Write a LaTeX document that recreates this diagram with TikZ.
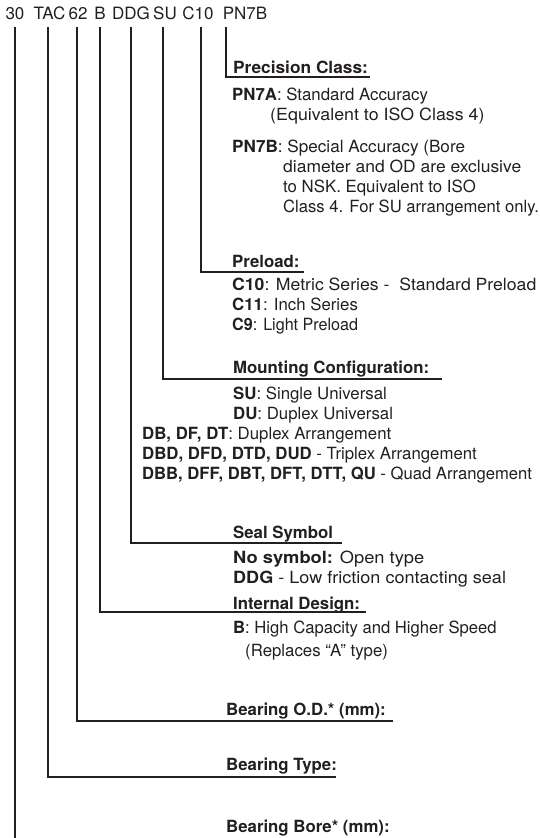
\documentclass[tikz,border=0pt]{standalone}
\usepackage{graphicx}
\usepackage{fontspec}
\setmainfont{TeX Gyre Heros}
\definecolor{ink}{HTML}{231F20}
\newcommand{\hstretch}[2]{\scalebox{#1}[1]{#2}}
\begin{document}
\begin{tikzpicture}[x=1pt,y=-1pt,
  txt/.style={anchor=base west, inner sep=0pt, font=\fontsize{16.8}{20}\selectfont, text=ink},
  toplbl/.style={anchor=base, inner sep=0pt, font=\fontsize{17}{20}\selectfont, text=ink},
  conn/.style={draw=ink, line width=1.3pt}]
\useasboundingbox (0,0) rectangle (539,838);
% top code
\node[toplbl] (c30) at (15,19.3) {30};
\node[toplbl] (cTAC) at (49.5,19.3) {TAC};
\node[toplbl] (c62) at (78,19.3) {62};
\node[toplbl] (cB) at (100,19.3) {B};
\node[toplbl] (cDDG) at (131,19.3) {DDG};
\node[toplbl] (cSU) at (165,19.3) {SU};
\node[toplbl] (cC10) at (198,19.3) {C10};
\node[toplbl] (cPN) at (245,19.3) {PN7B};
% line tops
\coordinate (l30) at (15,27);
\coordinate (lTAC) at (48,27);
\coordinate (l62) at (77,27);
\coordinate (lB) at (100,27);
\coordinate (lDDG) at (131,27);
\coordinate (lSU) at (163,27);
\coordinate (lC10) at (201,27);
\coordinate (lPN) at (226,27);
% line ends
\coordinate (ePN) at (370,77);
\coordinate (eC10) at (304,272);
\coordinate (eSU) at (442,379);
\coordinate (eDDG) at (342,543);
\coordinate (eB) at (366,612);
\coordinate (e62) at (393,721);
\coordinate (eTAC) at (336,777);
\coordinate (e30) at (15,838);
% connectors
\draw[conn] (lPN) |- (ePN);
\draw[conn] (lC10) |- (eC10);
\draw[conn] (lSU) |- (eSU);
\draw[conn] (lDDG) |- (eDDG);
\draw[conn] (lB) |- (eB);
\draw[conn] (l62) |- (e62);
\draw[conn] (lTAC) |- (eTAC);
\draw[conn] (l30) -- (e30);
% Precision class
\node[txt] (hPN) at (233,73) {\hstretch{1.03}{\textbf{Precision Class:}}};
\node[txt] (pn1) at (232,100) {\textbf{PN7A}: Standard Accuracy};
\node[txt] (pn2) at (270,120) {\hstretch{1.06}{(Equivalent to ISO Class 4)}};
\node[txt] (pn3) at (232,152) {\hstretch{1.02}{\textbf{PN7B}: Special Accuracy (Bore}};
\node[txt] (pn4) at (283,172) {\hstretch{1.04}{diameter and OD are exclusive}};
\node[txt] (pn5) at (283,192) {to NSK. Equivalent to ISO};
\node[txt] (pn6) at (283,212) {\hstretch{0.99}{Class 4. For SU arrangement only.}};
% Preload
\node[txt] (hC) at (232,267) {\textbf{Preload:}};
\node[txt] (c1) at (232,290) {\hstretch{1.05}{\textbf{C10}: Metric Series -\ \ Standard Preload}};
\node[txt] (c2) at (232,310) {\textbf{C11}: Inch Series};
\node[txt] (c3) at (232,330) {\hstretch{0.96}{\textbf{C9}: Light Preload}};
% Mounting
\node[txt] (hSU) at (233,373) {\textbf{Mounting Configuration:}};
\node[txt] (m1) at (233,399) {\textbf{SU}: Single Universal};
\node[txt] (m2) at (233,419) {\textbf{DU}: Duplex Universal};
\node[txt] (m3) at (142,439) {\textbf{DB, DF, DT}: Duplex Arrangement};
\node[txt] (m4) at (142,459) {\textbf{DBD, DFD, DTD, DUD} - Triplex Arrangement};
\node[txt] (m5) at (142,479) {\hstretch{0.99}{\textbf{DBB, DFF, DBT, DFT, DTT, QU} - Quad Arrangement}};
% Seal
\node[txt] (hDDG) at (233,538) {\textbf{Seal Symbol}};
\node[txt] (s1) at (233,563) {\hstretch{1.09}{\textbf{No symbol:} Open type}};
\node[txt] (s2) at (233,583) {\hstretch{1.075}{\textbf{DDG} - Low friction contacting seal}};
% Internal design
\node[txt] (hB) at (233,609) {\textbf{Internal Design:}};
\node[txt] (b1) at (233,633) {\hstretch{0.99}{\textbf{B}: High Capacity and Higher Speed}};
\node[txt] (b2) at (245,656) {(Replaces “A” type)};
% Bearing
\node[txt] (h62) at (226,715) {\textbf{Bearing O.D.* (mm):}};
\node[txt] (hTAC) at (226,770) {\textbf{Bearing Type:}};
\node[txt] (h30) at (226,832) {\textbf{Bearing Bore* (mm):}};
\end{tikzpicture}
\end{document}
